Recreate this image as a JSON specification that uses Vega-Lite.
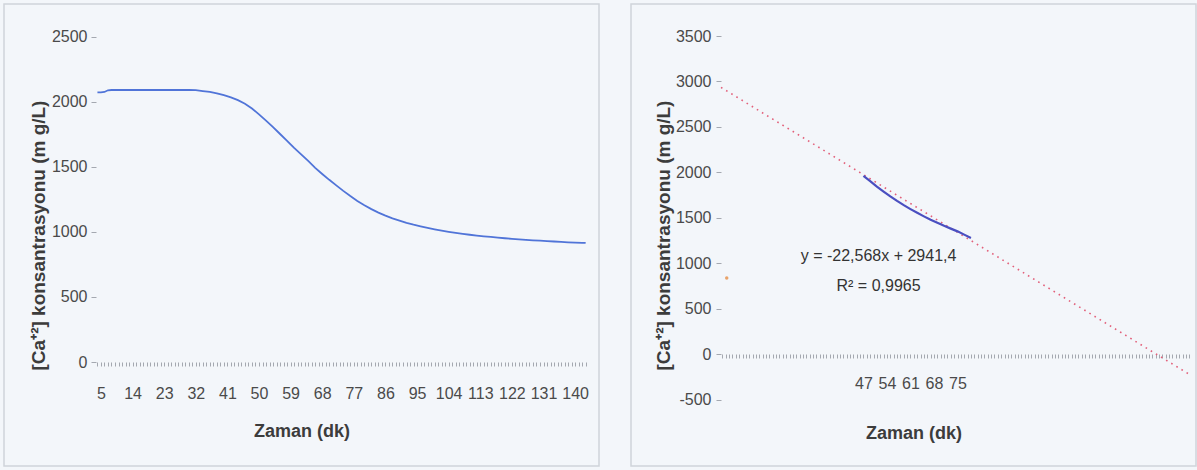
{
  "$schema": "https://vega.github.io/schema/vega-lite/v6.json",
  "background": "#f3f6fa",
  "padding": {"left": 3, "top": 3, "right": 3, "bottom": 4},
  "config": {
    "view": {"stroke": "#d0d4da", "strokeWidth": 1.5},
    "concat": {"spacing": 30},
    "axis": {
      "grid": false,
      "domain": false,
      "labelFont": "Liberation Sans",
      "labelFontSize": 16,
      "labelColor": "#4a4a4a",
      "tickColor": "#a4a8b0",
      "titleFont": "Liberation Sans",
      "titleFontSize": 18,
      "titleFontWeight": "bold",
      "titleColor": "#3c3c3c"
    }
  },
  "datasets": {
    "left": [
      {"t": 4, "c": 2072}, {"t": 5, "c": 2072}, {"t": 6, "c": 2075}, {"t": 7, "c": 2088}, {"t": 8, "c": 2090},
      {"t": 10, "c": 2090}, {"t": 15, "c": 2090}, {"t": 20, "c": 2090}, {"t": 25, "c": 2090}, {"t": 30, "c": 2090},
      {"t": 32, "c": 2089}, {"t": 34, "c": 2082}, {"t": 36, "c": 2075}, {"t": 38, "c": 2064}, {"t": 40, "c": 2050},
      {"t": 42, "c": 2033}, {"t": 44, "c": 2012}, {"t": 46, "c": 1985}, {"t": 48, "c": 1948}, {"t": 50, "c": 1903},
      {"t": 52, "c": 1855}, {"t": 54, "c": 1805}, {"t": 56, "c": 1752}, {"t": 58, "c": 1700}, {"t": 60, "c": 1645},
      {"t": 62, "c": 1595}, {"t": 64, "c": 1545}, {"t": 66, "c": 1492}, {"t": 68, "c": 1445}, {"t": 70, "c": 1400},
      {"t": 72, "c": 1357}, {"t": 74, "c": 1315}, {"t": 76, "c": 1275}, {"t": 78, "c": 1238}, {"t": 80, "c": 1205},
      {"t": 82, "c": 1175}, {"t": 84, "c": 1148}, {"t": 86, "c": 1125}, {"t": 88, "c": 1104}, {"t": 90, "c": 1087},
      {"t": 92, "c": 1070}, {"t": 94, "c": 1055}, {"t": 96, "c": 1042}, {"t": 98, "c": 1030}, {"t": 100, "c": 1019},
      {"t": 102, "c": 1009}, {"t": 104, "c": 1000}, {"t": 106, "c": 992}, {"t": 108, "c": 985}, {"t": 110, "c": 978},
      {"t": 112, "c": 972}, {"t": 114, "c": 966}, {"t": 116, "c": 961}, {"t": 118, "c": 956}, {"t": 120, "c": 951},
      {"t": 122, "c": 947}, {"t": 124, "c": 943}, {"t": 126, "c": 939}, {"t": 128, "c": 935}, {"t": 130, "c": 932},
      {"t": 132, "c": 929}, {"t": 134, "c": 926}, {"t": 136, "c": 923}, {"t": 138, "c": 920}, {"t": 140, "c": 918},
      {"t": 142, "c": 916}, {"t": 143, "c": 915}
    ],
    "right": [
      {"t": 47, "c": 1962}, {"t": 49, "c": 1905}, {"t": 51, "c": 1845}, {"t": 53, "c": 1790}, {"t": 55, "c": 1737},
      {"t": 57, "c": 1687}, {"t": 59, "c": 1640}, {"t": 61, "c": 1597}, {"t": 63, "c": 1556}, {"t": 65, "c": 1517},
      {"t": 67, "c": 1480}, {"t": 69, "c": 1446}, {"t": 71, "c": 1413}, {"t": 73, "c": 1382}, {"t": 75, "c": 1352},
      {"t": 77, "c": 1316}, {"t": 79, "c": 1280}
    ],
    "trend": [{"t": 4.6, "c": 2935}, {"t": 144.0, "c": -220}],
    "dot": [{"t": 6.3, "c": 839}]
  },
  "hconcat": [
    {
      "width": 595,
      "height": 462,
      "layer": [
        {
          "mark": {"type": "rule", "color": "#a4a8b0", "strokeWidth": 1},
          "encoding": {
            "x": {"datum": 3.6, "type": "quantitative"},
            "x2": {"datum": 143.8},
            "y": {"datum": 0, "type": "quantitative"}
          }
        },
        {
          "mark": {"type": "rule", "color": "#a4a8b0", "strokeWidth": 1},
          "encoding": {
            "x": {"datum": 3.6, "type": "quantitative"},
            "y": {"datum": 0, "type": "quantitative"},
            "y2": {"datum": 2500}
          }
        },
        {
          "data": {"name": "left"},
          "mark": {"type": "line", "color": "#5074d8", "strokeWidth": 1.8},
          "encoding": {
            "x": {
              "field": "t", "type": "quantitative",
              "scale": {"domain": [-22.6, 146.8], "nice": false, "zero": false},
              "axis": {
                "values": [4,5,6,7,8,9,10,11,12,13,14,15,16,17,18,19,20,21,22,23,24,25,26,27,28,29,30,31,32,33,34,35,36,37,38,39,40,41,42,43,44,45,46,47,48,49,50,51,52,53,54,55,56,57,58,59,60,61,62,63,64,65,66,67,68,69,70,71,72,73,74,75,76,77,78,79,80,81,82,83,84,85,86,87,88,89,90,91,92,93,94,95,96,97,98,99,100,101,102,103,104,105,106,107,108,109,110,111,112,113,114,115,116,117,118,119,120,121,122,123,124,125,126,127,128,129,130,131,132,133,134,135,136,137,138,139,140,141,142,143],
                "tickCount": 1000,
                "labelExpr": "(datum.value - 5) % 9 === 0 ? '' + datum.value : ''",
                "labelOverlap": false,
                "labelFlush": false,
                "labelBound": false,
                "offset": -104,
                "tickSize": 4,
                "labelPadding": 19,
                "title": "Zaman (dk)",
                "titlePadding": 21
              }
            },
            "y": {
              "field": "c", "type": "quantitative",
              "scale": {"domain": [-799, 2751], "nice": false, "zero": false},
              "axis": {
                "values": [0, 500, 1000, 1500, 2000, 2500],
                "labelExpr": "'' + datum.value",
                "offset": -92,
                "tickSize": 5,
                "labelPadding": 4,
                "title": "[Ca⁺²] konsantrasyonu (m g/L)",
                "titleFontSize": 19,
                "titlePadding": 3
              }
            }
          }
        }
      ]
    },
    {
      "width": 565,
      "height": 462,
      "layer": [
        {
          "mark": {"type": "rule", "color": "#a4a8b0", "strokeWidth": 1},
          "encoding": {
            "x": {"datum": 4.6, "type": "quantitative"},
            "x2": {"datum": 144.0},
            "y": {"datum": 0, "type": "quantitative"}
          }
        },
        {
          "mark": {"type": "rule", "color": "#a4a8b0", "strokeWidth": 1},
          "encoding": {
            "x": {"datum": 4.6, "type": "quantitative"},
            "y": {"datum": -500, "type": "quantitative"},
            "y2": {"datum": 3500}
          }
        },
        {
          "data": {"name": "trend"},
          "mark": {"type": "line", "color": "#e2607a", "strokeWidth": 1.6, "strokeDash": [1.6, 4.4]},
          "encoding": {
            "x": {"field": "t", "type": "quantitative"},
            "y": {"field": "c", "type": "quantitative"}
          }
        },
        {
          "data": {"name": "dot"},
          "mark": {"type": "point", "filled": true, "color": "#e89a5a", "size": 12, "opacity": 0.9},
          "encoding": {
            "x": {"field": "t", "type": "quantitative"},
            "y": {"field": "c", "type": "quantitative"}
          }
        },
        {
          "data": {"name": "right"},
          "mark": {"type": "line", "color": "#4a4fc0", "strokeWidth": 2.2},
          "encoding": {
            "x": {
              "field": "t", "type": "quantitative",
              "scale": {"domain": [-22.2, 146.0], "nice": false, "zero": false},
              "axis": {
                "values": [5,6,7,8,9,10,11,12,13,14,15,16,17,18,19,20,21,22,23,24,25,26,27,28,29,30,31,32,33,34,35,36,37,38,39,40,41,42,43,44,45,46,47,48,49,50,51,52,53,54,55,56,57,58,59,60,61,62,63,64,65,66,67,68,69,70,71,72,73,74,75,76,77,78,79,80,81,82,83,84,85,86,87,88,89,90,91,92,93,94,95,96,97,98,99,100,101,102,103,104,105,106,107,108,109,110,111,112,113,114,115,116,117,118,119,120,121,122,123,124,125,126,127,128,129,130,131,132,133,134,135,136,137,138,139,140,141,142,143,144],
                "tickCount": 1000,
                "labelExpr": "(datum.value >= 47 && datum.value <= 75 && (datum.value - 47) % 7 === 0) ? '' + datum.value : ''",
                "labelOverlap": false,
                "labelFlush": false,
                "labelBound": false,
                "offset": -112,
                "tickSize": 4,
                "labelPadding": 17.5,
                "title": "Zaman (dk)",
                "titlePadding": 32.5
              }
            },
            "y": {
              "field": "c", "type": "quantitative",
              "scale": {"domain": [-1228, 3852], "nice": false, "zero": false},
              "axis": {
                "values": [-500, 0, 500, 1000, 1500, 2000, 2500, 3000, 3500],
                "labelExpr": "'' + datum.value",
                "offset": -90,
                "tickSize": 5,
                "labelPadding": 5,
                "title": "[Ca⁺²] konsantrasyonu (m g/L)",
                "titleFontSize": 19,
                "titlePadding": 2
              }
            }
          }
        },
        {
          "data": {"values": [{}]},
          "mark": {"type": "text", "text": "y = -22,568x + 2941,4", "font": "Liberation Sans", "fontSize": 16, "color": "#333333", "align": "center", "baseline": "middle"},
          "encoding": {
            "x": {"datum": 51.5, "type": "quantitative"},
            "y": {"datum": 1081, "type": "quantitative"}
          }
        },
        {
          "data": {"values": [{}]},
          "mark": {"type": "text", "text": "R² = 0,9965", "font": "Liberation Sans", "fontSize": 16, "color": "#333333", "align": "center", "baseline": "middle"},
          "encoding": {
            "x": {"datum": 51.5, "type": "quantitative"},
            "y": {"datum": 751, "type": "quantitative"}
          }
        }
      ]
    }
  ]
}
